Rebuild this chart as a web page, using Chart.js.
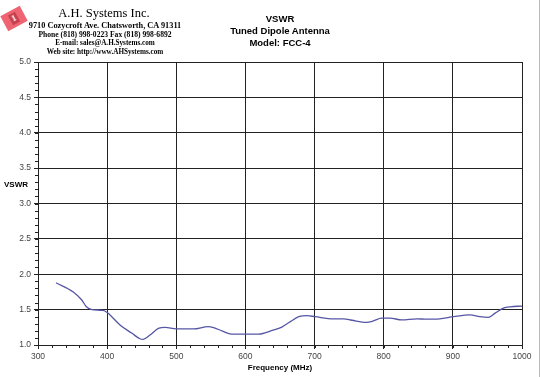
<!DOCTYPE html>
<html>
<head>
<meta charset="utf-8">
<script src="https://cdn.jsdelivr.net/npm/chart.js@4"></script>
<style>
    body { margin: 0; background: #fff; }
    #wrap { position: relative; width: 540px; height: 377px; overflow: hidden; }
    #chart { position: absolute; left: 0; top: 0; }
    .txt { position: absolute; white-space: nowrap; color: #000; }
    .serif { font-family: "Liberation Serif", "Times New Roman", serif; }
    .sans { font-family: "Liberation Sans", Arial, sans-serif; font-weight: bold; }
    #logo { position: absolute; left: 3px; top: 10px; width: 22px; height: 17px; background: #ee6472;
            transform: rotate(-28deg); }
    #logo span { position: absolute; left: 7px; top: 3px; width: 8px; height: 11px; background: #c8404e;
            color: #fff; font: bold 9px "Liberation Serif", serif; text-align: center; line-height: 11px; }
    #frame { position: absolute; right: 0; top: 0; width: 1px; height: 377px; background: #bbb; }
</style>
</head>
<body>
<div id="wrap">
    <canvas id="chart" width="540" height="377"></canvas>
    <div id="logo"><span>1</span></div>
    <div id="frame"></div>
    <div class="txt serif" style="left:0;width:208px;text-align:center;top:6px;font-size:12.5px;">A.H. Systems Inc.</div>
    <div class="txt serif" style="left:0;width:210px;text-align:center;top:21px;font-size:8.3px;font-weight:bold;">9710 Cozycroft Ave. Chatsworth, CA 91311</div>
    <div class="txt serif" style="left:0;width:210px;text-align:center;top:30px;font-size:7.6px;font-weight:bold;">Phone (818) 998-0223 Fax (818) 998-6892</div>
    <div class="txt serif" style="left:0;width:210px;text-align:center;top:39px;font-size:7.2px;font-weight:bold;">E-mail: sales@A.H.Systems.com</div>
    <div class="txt serif" style="left:0;width:210px;text-align:center;top:48px;font-size:7.2px;font-weight:bold;">Web site: http://www.AHSystems.com</div>
    <div class="txt sans" style="left:180px;width:200px;text-align:center;top:13px;font-size:9.5px;">VSWR</div>
    <div class="txt sans" style="left:180px;width:200px;text-align:center;top:25px;font-size:9.5px;">Tuned Dipole Antenna</div>
    <div class="txt sans" style="left:180px;width:200px;text-align:center;top:37px;font-size:9.5px;">Model: FCC-4</div>
    <div class="txt sans" style="left:4px;top:180px;font-size:8px;">VSWR</div>
</div>
<script>
// frequency (MHz) and VSWR
const freqs = [326, 351, 363, 370, 378, 394, 400, 419, 436, 448, 452, 462, 474, 484, 500,
    525, 546, 554, 566, 580, 599, 619, 640, 652, 665, 677, 689, 701, 727, 742, 754, 775,
    785, 797, 809, 826, 848, 862, 881, 901, 925, 939, 951, 961, 973, 983, 1000];
const vswr = [1.88, 1.75, 1.64, 1.54, 1.5, 1.49, 1.46, 1.28, 1.165, 1.085, 1.08, 1.14, 1.235, 1.25, 1.227,
    1.227, 1.26, 1.245, 1.2, 1.155, 1.155, 1.155, 1.21, 1.25, 1.33, 1.4, 1.415, 1.4, 1.37, 1.37, 1.35, 1.32,
    1.34, 1.38, 1.38, 1.355, 1.37, 1.365, 1.37, 1.4, 1.425, 1.4, 1.39, 1.45, 1.52, 1.54, 1.55];

const xTicks = [300, 400, 500, 600, 700, 800, 900, 1000];
const yTicks = [1.0, 1.5, 2.0, 2.5, 3.0, 3.5, 4.0, 4.5, 5.0];

const gridColor = '#222';
const tickFont = { family: 'Liberation Sans, Arial, sans-serif', size: 8.5 };

// small ticks between the labelled ones
const minorTicks = {
    id: 'minorTicks',
    afterDraw(chart) {
        const ctx = chart.ctx;
        const x = chart.scales.x, y = chart.scales.y;
        ctx.save();
        ctx.strokeStyle = gridColor;
        ctx.lineWidth = 1;
        ctx.beginPath();
        for (let f = xTicks[0]; f <= xTicks[xTicks.length - 1]; f += 20) {
            const px = Math.round(x.getPixelForValue(f)) + 0.5;
            ctx.moveTo(px, y.bottom);
            ctx.lineTo(px, y.bottom + 3);
        }
        for (let i = 0; i <= 40; i++) {
            const py = Math.round(y.getPixelForValue(1 + i * 0.1)) + 0.5;
            ctx.moveTo(x.left - 3, py);
            ctx.lineTo(x.left, py);
        }
        ctx.stroke();
        ctx.restore();
    }
};

new Chart(document.getElementById('chart'), {
    type: 'line',
    data: {
        datasets: [{
            data: freqs.map((f, i) => ({ x: f, y: vswr[i] })),
            borderColor: '#5656a6',
            borderWidth: 1.3,
            pointRadius: 0,
            tension: 0.4,
            cubicInterpolationMode: 'monotone'
        }]
    },
    options: {
        responsive: false,
        animation: false,
        layout: { padding: { left: 0, top: 62, right: 18, bottom: 0 } },
        plugins: { legend: { display: false }, tooltip: { enabled: false } },
        scales: {
            x: {
                type: 'linear',
                min: 300,
                max: 1000,
                afterBuildTicks: s => { s.ticks = xTicks.map(v => ({ value: v })); },
                afterFit: s => { s.height = 32; },
                ticks: { font: tickFont, color: '#444', padding: 3, maxRotation: 0, callback: v => String(v) },
                grid: { color: gridColor, tickLength: 4, tickColor: gridColor },
                border: { color: gridColor },
                title: {
                    display: true,
                    text: 'Frequency (MHz)',
                    color: '#000',
                    font: { family: 'Liberation Sans, Arial, sans-serif', size: 8, weight: 'bold' },
                    padding: { top: 0, bottom: 4 }
                }
            },
            y: {
                min: 1,
                max: 5,
                afterBuildTicks: s => { s.ticks = yTicks.map(v => ({ value: v })); },
                afterFit: s => { s.width = 38; },
                ticks: { font: tickFont, color: '#444', padding: 3, callback: v => v.toFixed(1) },
                grid: { color: gridColor, tickLength: 4, tickColor: gridColor },
                border: { color: gridColor }
            }
        }
    },
    plugins: [minorTicks]
});
</script>
</body>
</html>
